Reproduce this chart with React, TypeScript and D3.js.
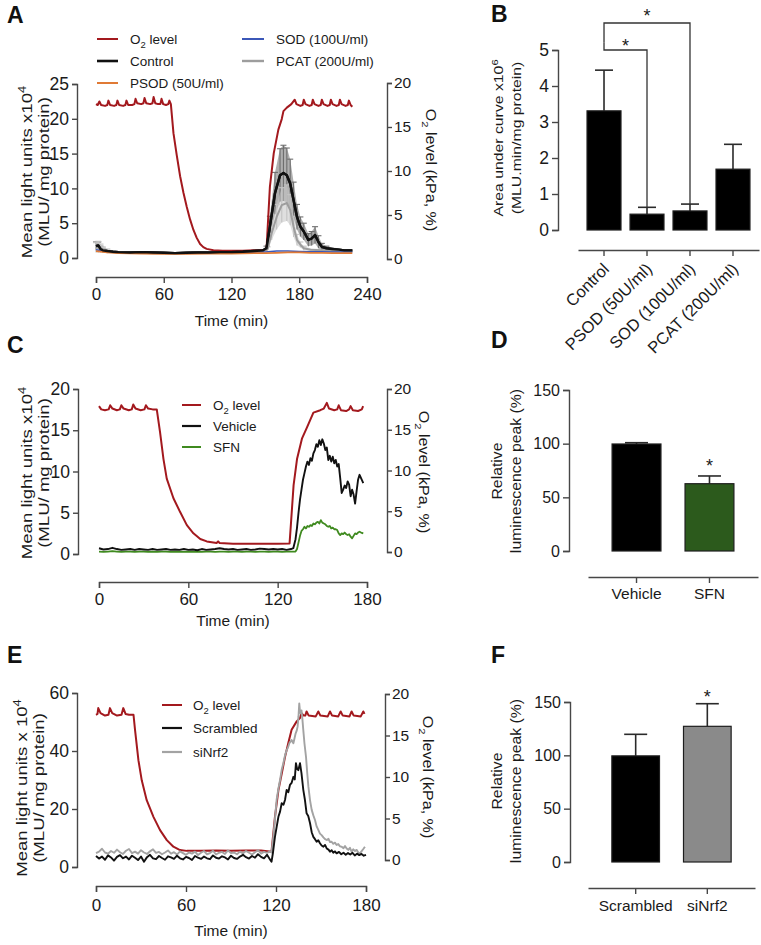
import React, { useEffect, useRef } from "react";
import * as d3 from "d3";

type Pt = [number, number];

// ---------- A: luminescence vs time with antioxidant enzymes ----------
const namesA = ["O2 level", "Control", "PSOD (50U/ml)", "SOD (100U/ml)", "PCAT (200U/ml)"];
// O2 in kPa (right axis)
const o2A: Pt[] = [
  [0, 17.6], [1.5, 17.5], [3, 17.9], [4.5, 17.5], [8, 17.4], [10, 17.5], [11, 18.0], [12.5, 17.5],
  [16, 17.4], [18, 17.5], [19, 18.0], [20.5, 17.5], [24, 17.4], [26, 17.5], [27, 18.0], [28.5, 17.5],
  [32, 17.5], [34, 17.6], [35, 18.2], [36.5, 17.7], [40, 17.6], [42, 17.7], [43, 18.3], [44.5, 17.7],
  [48, 17.6], [50, 17.7], [51, 18.4], [52.5, 17.7], [55, 17.6], [57, 17.6], [58, 18.2], [59.5, 17.6],
  [62, 17.5], [64, 17.6], [65, 18.0], [66.3, 17.6], [68.6, 14.3], [71.5, 11.8], [74.5, 9.4], [77.5, 7.5],
  [80.4, 5.9], [83.3, 4.5], [86.3, 3.3], [89.2, 2.4], [92.2, 1.7], [95, 1.35], [98, 1.15], [104, 1.0],
  [112, 0.95], [120, 0.95], [130, 0.95], [140, 1.0], [148, 1.0], [151, 1.1], [154, 8.2], [157.4, 12.0],
  [161.5, 14.7], [164.5, 15.9], [166, 16.8], [169, 17.2], [173, 17.6], [176, 18.1], [177.5, 17.6], [181, 17.4],
  [183, 17.5], [184, 18.1], [185.5, 17.6], [189, 17.4], [191, 17.5], [192, 18.1], [193.5, 17.6], [197, 17.4],
  [199, 17.5], [200, 18.1], [201.5, 17.6], [205, 17.4], [207, 17.5], [208, 18.1], [209.5, 17.6], [213, 17.4],
  [215, 17.5], [216, 18.1], [217.5, 17.6], [221, 17.4], [223, 17.5], [224, 18.0], [225.5, 17.5], [227, 17.3],
];
const controlA: Pt[] = [
  [0, 1.7], [2, 1.8], [4, 1.3], [6, 1.1], [10, 1.0], [15, 0.9], [20, 0.85], [30, 0.8], [40, 0.85], [50, 0.8],
  [60, 0.75], [70, 0.7], [80, 0.75], [90, 0.8], [100, 0.8], [110, 0.85], [120, 0.85], [130, 0.9], [140, 1.0], [148, 1.1],
  [151, 1.4], [154, 4.5], [158.5, 9.3], [163, 11.9], [166, 12.2], [169, 11.9], [172, 10.7], [175, 8.3], [178, 5.9], [181, 4.5],
  [184, 3.8], [188, 2.6], [191, 2.8], [194, 3.3], [197, 2.3], [200, 1.6], [204, 1.4], [209, 1.3], [215, 1.2], [220, 1.1],
  [227, 1.1],
];
const controlErrA = [
  0.6, 0.5, 0.4, 0.3, 0.2, 0.2, 0.15, 0.15, 0.15, 0.15,
  0.15, 0.15, 0.15, 0.15, 0.15, 0.15, 0.15, 0.15, 0.2, 0.2,
  0.3, 1.5, 3.0, 3.8, 4.0, 3.9, 3.5, 2.6, 1.8, 1.4,
  1.2, 0.9, 1.0, 1.2, 0.9, 0.5, 0.3, 0.2, 0.2, 0.15,
  0.15,
];
const psodA: Pt[] = [
  [0, 1.0], [10, 0.8], [20, 0.7], [40, 0.65], [60, 0.6], [80, 0.6], [100, 0.65], [120, 0.65], [140, 0.7],
  [150, 0.7], [160, 0.75], [170, 0.8], [180, 0.8], [190, 0.75], [200, 0.75], [210, 0.7], [227, 0.7],
];
const sodA: Pt[] = [
  [0, 1.2], [10, 0.9], [20, 0.8], [40, 0.7], [60, 0.7], [80, 0.7], [100, 0.75], [120, 0.8], [140, 0.85],
  [150, 0.85], [155, 0.95], [160, 1.0], [170, 1.0], [180, 0.95], [190, 0.9], [200, 0.9], [210, 0.85], [227, 0.85],
];
const pcatA: Pt[] = [
  [0, 1.5], [2, 1.6], [4, 1.4], [6, 1.2], [10, 1.0], [15, 0.9], [20, 0.8], [30, 0.75], [40, 0.75], [50, 0.7],
  [60, 0.7], [70, 0.7], [80, 0.7], [90, 0.75], [100, 0.75], [110, 0.8], [120, 0.8], [130, 0.85], [140, 0.9], [148, 1.0],
  [152, 1.3], [155.6, 3.6], [160, 5.9], [164.5, 7.6], [169, 7.9], [172, 6.9], [175, 4.5], [178, 2.6], [181, 1.9], [184, 1.4],
  [190, 1.2], [200, 1.1], [210, 1.0], [220, 1.0], [227, 1.0],
];
const pcatErrA = [
  0.7, 0.8, 0.6, 0.4, 0.3, 0.2, 0.15, 0.1, 0.1, 0.1,
  0.1, 0.1, 0.1, 0.1, 0.1, 0.1, 0.1, 0.1, 0.1, 0.15,
  0.3, 1.0, 1.8, 2.5, 2.6, 2.2, 1.5, 0.8, 0.4, 0.3,
  0.2, 0.15, 0.1, 0.1, 0.1,
];

// ---------- B: area under curve ----------
const groupsB = ["Control", "PSOD (50U/ml)", "SOD (100U/ml)", "PCAT (200U/ml)"];
const aucB = [3.31, 0.44, 0.53, 1.69];
const aucErrB = [1.13, 0.19, 0.19, 0.69];

// ---------- C: vehicle vs sulforaphane ----------
const namesC = ["O2 level", "Vehicle", "SFN"];
const o2C: Pt[] = [
  [0, 17.9], [1.5, 17.5], [4, 17.4], [6.5, 17.5], [7.5, 18.0], [9, 17.6], [12, 17.4], [14, 17.5], [15, 18.0],
  [16.5, 17.6], [20, 17.4], [22, 17.5], [23, 18.1], [24.5, 17.6], [28, 17.4], [30.5, 17.5], [31.5, 18.0], [33, 17.6],
  [36, 17.5], [38.8, 17.5], [41, 14.7], [43.3, 11.4], [45.5, 9.0], [50, 6.6], [54.5, 4.9], [59, 3.3], [63.4, 2.3],
  [68, 1.6], [72.4, 1.3], [79, 1.1], [80, 1.3], [81, 1.1], [90, 1.0], [100, 1.0], [110, 1.0], [120, 1.0], [128, 1.05],
  [130.7, 8.2], [133, 11.4], [136.3, 13.9], [139.7, 15.3], [144, 17.1], [148.6, 17.4], [151, 17.6], [153, 18.3],
  [154.5, 17.6], [158, 17.4], [160, 17.5], [161, 18.0], [162.5, 17.4], [166, 17.3], [168, 17.5], [169, 17.9],
  [170.5, 17.4], [174, 17.3], [176.5, 17.5], [177.4, 17.9],
];
const vehicleC: Pt[] = [
  [0, 0.7], [3, 0.55], [6, 0.6], [9, 0.75], [12, 0.6], [15, 0.5], [18, 0.55], [21, 0.6], [24, 0.5], [27, 0.6],
  [30, 0.55], [33, 0.5], [36, 0.6], [39, 0.5], [42, 0.55], [45, 0.6], [48, 0.5], [51, 0.55], [54, 0.5], [57, 0.6],
  [60, 0.5], [63, 0.55], [66, 0.45], [69, 0.6], [72, 0.5], [75, 0.55], [78, 0.6], [81, 0.7], [84, 0.6], [87, 0.55],
  [90, 0.6], [93, 0.5], [96, 0.55], [99, 0.6], [102, 0.5], [105, 0.55], [108, 0.65], [111, 0.6], [114, 0.55], [117, 0.6],
  [120, 0.55], [123, 0.6], [126, 0.5], [129, 0.6], [130.5, 0.7], [132, 1.8], [133, 3.2], [134, 5.0], [135, 6.6], [136, 7.8],
  [137, 9.0], [138, 9.8], [139, 10.6], [140, 11.2], [141, 10.8], [142, 11.6], [143, 11.3], [144, 12.2], [145, 12.6], [146, 13.3],
  [147, 13.0], [148, 13.8], [149, 13.2], [150, 13.9], [151, 13.4], [152, 12.6], [153, 12.9], [154, 11.4], [155, 11.9], [156, 11.2],
  [157, 11.8], [158, 11.0], [159, 11.4], [160, 10.6], [161, 10.9], [162, 9.2], [163, 7.4], [164, 7.8], [165, 8.3], [166, 8.0],
  [167, 8.8], [168, 8.4], [169, 7.0], [170, 7.8], [171, 7.2], [172, 6.1], [173, 7.6], [174, 9.0], [175, 9.6], [176, 9.2],
  [177.5, 8.6],
];
const sfnC: Pt[] = [
  [0, 0.3], [3, 0.25], [6, 0.3], [9, 0.35], [12, 0.3], [15, 0.25], [18, 0.3], [21, 0.3], [24, 0.25], [27, 0.3],
  [30, 0.3], [33, 0.25], [36, 0.3], [39, 0.25], [42, 0.3], [45, 0.3], [48, 0.25], [51, 0.25], [54, 0.3], [57, 0.25],
  [60, 0.3], [63, 0.25], [66, 0.3], [69, 0.25], [72, 0.3], [75, 0.3], [78, 0.25], [81, 0.3], [84, 0.3], [87, 0.25],
  [90, 0.3], [93, 0.3], [96, 0.25], [99, 0.3], [102, 0.3], [105, 0.25], [108, 0.3], [111, 0.3], [114, 0.25], [117, 0.3],
  [120, 0.3], [123, 0.25], [126, 0.3], [129, 0.3], [132, 0.3], [133, 0.6], [134, 1.4], [135, 2.2], [136, 2.8], [137, 3.0],
  [138, 3.3], [139, 3.1], [140, 3.4], [141, 3.3], [142, 3.5], [143, 3.4], [144, 3.7], [145, 3.6], [146, 3.8], [147, 3.9],
  [148, 3.7], [149, 4.1], [150, 3.8], [151, 3.7], [152, 3.6], [153, 3.4], [154, 3.3], [155, 3.4], [156, 3.1], [157, 3.2],
  [158, 3.0], [159, 3.0], [160, 2.9], [161, 2.5], [162, 2.3], [163, 2.5], [164, 2.4], [165, 2.6], [166, 2.4], [167, 2.3],
  [168, 2.4], [169, 2.1], [170, 1.9], [171, 2.2], [172, 2.5], [173, 2.4], [174, 2.6], [175, 2.7], [176, 2.6], [177.5, 2.5],
];

// ---------- D: relative peak, SFN ----------
const groupsD = ["Vehicle", "SFN"];
const peakD = [99.7, 62.7];
const peakErrD = [1.2, 7.2];

// ---------- E: scrambled vs siNrf2 ----------
const namesE = ["O2 level", "Scrambled", "siNrf2"];
const o2E: Pt[] = [
  [0, 17.5], [1, 17.6], [1.5, 18.3], [3, 17.7], [6, 17.4], [8.3, 17.5], [9.3, 18.3], [10.8, 17.7], [14, 17.4],
  [17, 17.5], [18.2, 18.3], [19.7, 17.6], [22, 17.5], [25, 17.5], [26, 15.7], [28.3, 12.0], [30.5, 9.6], [33.8, 7.2],
  [38.3, 5.2], [42.7, 3.6], [47.2, 2.4], [51.6, 1.6], [56, 1.2], [60.5, 1.1], [70, 1.1], [80, 1.15], [90, 1.1],
  [100, 1.15], [110, 1.15], [117, 1.0], [119.3, 5.2], [121.6, 8.4], [123.8, 10.4], [126, 12.4], [128.2, 14.1],
  [130.4, 15.7], [133.8, 16.7], [136, 17.1], [137, 17.7], [138.5, 17.4], [139.5, 17.4], [140.4, 17.9], [141.8, 17.4],
  [146.5, 17.3], [148.2, 17.9], [149.6, 17.4], [154.5, 17.3], [156, 17.9], [157.4, 17.4], [161.5, 17.3], [163.1, 17.9],
  [164.5, 17.4], [169, 17.3], [170.4, 17.9], [171.8, 17.4], [176.5, 17.3], [178.2, 17.9], [179, 17.6],
];
const scrambledE: Pt[] = [
  [0, 3.8], [2, 2.9], [4, 3.6], [6, 2.5], [8, 4.0], [10, 3.3], [12, 2.2], [14, 3.5], [16, 4.1], [18, 3.0],
  [20, 3.6], [22, 2.6], [24, 3.9], [26, 3.2], [28, 2.4], [30, 3.6], [32, 1.8], [34, 3.4], [36, 4.2], [38, 3.0],
  [40, 2.7], [42, 3.8], [44, 3.1], [46, 2.5], [48, 3.7], [50, 3.3], [52, 2.8], [54, 3.9], [56, 3.0], [58, 2.6],
  [60, 3.5], [62, 3.1], [64, 2.4], [66, 3.8], [68, 3.2], [70, 2.8], [72, 3.6], [74, 3.0], [76, 2.7], [78, 4.0],
  [80, 3.2], [82, 2.9], [84, 3.7], [86, 3.3], [88, 2.6], [90, 3.9], [92, 3.1], [94, 2.8], [96, 3.6], [98, 4.2],
  [100, 3.4], [102, 2.9], [104, 3.8], [106, 3.2], [108, 4.4], [110, 3.5], [112, 3.0], [114, 4.2], [116, 2.6], [117, 1.8],
  [118, 5.0], [119.3, 10.4], [120.5, 14.0], [121.6, 17.3], [122.7, 19.1], [123.8, 22.0], [125, 21.5], [126, 23.1], [127.1, 26.6], [128.2, 25.8],
  [129.3, 28.3], [130.4, 29.0], [131.6, 31.1], [132.5, 30.2], [133.3, 35.8], [134.1, 33.8], [134.9, 33.4], [136, 35.8], [137, 32.3], [138.2, 26.6],
  [139.3, 23.1], [140.4, 18.5], [141.5, 17.6], [142.7, 15.1], [143.8, 12.0], [144.9, 10.4], [146, 9.6], [147.1, 8.7], [148.2, 9.2], [149.3, 8.2],
  [150.4, 7.4], [151.6, 7.0], [152.7, 7.6], [153.8, 6.4], [155, 6.0], [156, 5.3], [157.1, 5.8], [158.2, 4.9], [159.3, 5.4], [160.4, 4.7],
  [162, 5.2], [163.5, 4.4], [165, 4.9], [166.5, 4.2], [168, 4.8], [169.5, 4.3], [171, 4.9], [172.5, 4.0], [174, 4.6], [175.5, 4.1],
  [177, 4.5], [178.5, 3.9], [180, 4.2],
];
const siNrf2E: Pt[] = [
  [0, 4.8], [2, 5.3], [4, 6.3], [6, 5.0], [8, 4.6], [10, 5.5], [12, 4.9], [14, 6.0], [16, 5.1], [18, 4.5],
  [20, 5.6], [22, 6.2], [24, 4.8], [26, 5.3], [28, 4.6], [30, 5.8], [32, 5.0], [34, 4.5], [36, 5.4], [38, 6.1],
  [40, 4.9], [42, 5.2], [44, 4.4], [46, 5.0], [48, 5.7], [50, 4.6], [52, 5.1], [54, 4.3], [56, 5.4], [58, 4.8],
  [60, 4.2], [62, 5.0], [64, 4.6], [66, 5.3], [68, 4.1], [70, 4.9], [72, 5.5], [74, 4.4], [76, 4.8], [78, 5.6],
  [80, 4.3], [82, 4.9], [84, 5.2], [86, 4.5], [88, 5.7], [90, 4.8], [92, 5.0], [94, 4.4], [96, 5.3], [98, 4.7],
  [100, 5.5], [102, 4.9], [104, 4.3], [106, 5.1], [108, 5.8], [110, 4.6], [112, 5.2], [114, 4.9], [116, 5.4], [117, 5.0],
  [118.2, 10.4], [119.3, 16.5], [120.4, 23.1], [121.6, 27.0], [122.7, 30.0], [123.8, 33.5], [124.9, 35.8], [126, 38.5], [127.1, 40.3], [128, 41.2],
  [128.9, 42.7], [129.7, 43.2], [130.4, 43.8], [131.6, 42.7], [132.4, 44.5], [133.1, 46.1], [133.8, 47.0], [134.4, 48.4], [135, 52.0], [135.5, 56.4],
  [136, 53.5], [136.4, 53.0], [137, 54.0], [137.6, 51.0], [138.2, 47.2], [139, 42.5], [140, 38.0], [140.8, 32.5], [141.6, 27.7], [142.7, 23.0],
  [143.8, 19.7], [144.9, 17.8], [146, 16.2], [147.1, 14.0], [148.2, 12.8], [149.3, 11.5], [150.4, 11.0], [151.6, 10.2], [152.7, 9.6], [153.8, 9.3],
  [155, 9.7], [156, 8.6], [157.1, 8.7], [158.2, 8.0], [159.3, 8.4], [160.4, 7.6], [161.5, 7.9], [162.7, 7.1], [163.8, 7.0], [165, 6.5],
  [166, 7.2], [167.1, 6.4], [168.2, 5.9], [169.3, 6.6], [170.4, 5.3], [171.5, 6.1], [172.7, 5.5], [173.8, 5.9], [175, 4.9], [176, 4.7],
  [177, 5.4], [178.2, 6.2], [179.3, 7.0],
];

// ---------- F: relative peak, siNrf2 ----------
const groupsF = ["Scrambled", "siNrf2"];
const peakF = [99.5, 127.2];
const peakErrF = [20.2, 21.2];

const FONT = "'Liberation Sans', Arial, Helvetica, sans-serif";
const AXIS = "#474747";
const RED = "#a3191e";

function styleAxis(g: any, size: number) {
  g.attr("font-family", FONT).attr("font-size", size);
  g.select(".domain").attr("stroke", AXIS).attr("stroke-width", 1.4);
  g.selectAll(".tick line").attr("stroke", AXIS).attr("stroke-width", 1.4);
  g.selectAll(".tick text").attr("fill", "#1a1a1a");
}

// segments: 0 normal, 1 superscript, -1 subscript
function richText(t: any, segs: [string, number][], fs: number) {
  let cur = 0;
  segs.forEach(([s, k]) => {
    const off = k > 0 ? -fs * 0.4 : k < 0 ? fs * 0.28 : 0;
    t.append("tspan").attr("dy", off - cur).attr("font-size", k ? fs * 0.7 : fs).text(s);
    cur = off;
  });
}

function nameSegs(name: string): [string, number][] {
  return name.startsWith("O2") ? [["O", 0], ["2", -1], [name.slice(2), 0]] : [[name, 0]];
}

function rotLabel(svg: any, x: number, y: number, angle: number, stretch: number, fs: number, segs: [string, number][]) {
  const t = svg.append("text")
    .attr("transform", `translate(${x},${y}) rotate(${angle}) scale(${stretch},1)`)
    .attr("text-anchor", "middle").attr("font-size", fs).attr("fill", "#1a1a1a");
  richText(t, segs, fs);
}

function panelLetter(svg: any, s: string, x: number, y: number) {
  svg.append("text").attr("x", x).attr("y", y).attr("font-size", 23).attr("font-weight", "bold").attr("fill", "#111").text(s);
}

function timePanel(svg: any, c: any) {
  const x = d3.scaleLinear().domain([0, c.xMax]).range(c.xRange);
  const yL = d3.scaleLinear().domain([0, c.yLMax]).range(c.yLRange);
  const yR = d3.scaleLinear().domain([0, 20]).range(c.yRRange);

  const gx = svg.append("g").attr("transform", `translate(0,${c.xAxisY})`)
    .call(d3.axisBottom(x).tickValues(c.xTicks).tickSize(6).tickPadding(c.xPad));
  styleAxis(gx, 17);
  const gl = svg.append("g").attr("transform", `translate(${c.leftX},0)`)
    .call(d3.axisLeft(yL).tickValues(c.yLTicks).tickSize(5).tickPadding(3));
  styleAxis(gl, 17.5);
  const gr = svg.append("g").attr("transform", `translate(${c.rightX},0)`)
    .call(d3.axisRight(yR).tickValues([0, 5, 10, 15, 20]).tickSize(5).tickPadding(2));
  styleAxis(gr, 15.5);

  const lineL = d3.line<Pt>().x((d) => x(d[0])).y((d) => yL(d[1]));
  const lineR = d3.line<Pt>().x((d) => x(d[0])).y((d) => yR(d[1]));

  // error bands (mean +/- SEM) with caps
  c.series.forEach((s: any) => {
    if (!s.err) return;
    const band = d3.area<Pt>()
      .x((d) => x(d[0]))
      .y0((d, i) => yL(Math.max(0, d[1] - s.err[i])))
      .y1((d, i) => yL(d[1] + s.err[i]));
    svg.append("path").datum(s.data).attr("d", band).attr("fill", s.errColor).attr("opacity", 0.55);
    const g = svg.append("g").attr("stroke", s.errColor).attr("stroke-width", 1.1);
    s.data.forEach((d: Pt, i: number) => {
      if (s.err[i] < 0.25) return;
      const xx = x(d[0]);
      const top = yL(d[1] + s.err[i]);
      g.append("line").attr("x1", xx).attr("x2", xx).attr("y1", yL(Math.max(0, d[1] - s.err[i]))).attr("y2", top);
      g.append("line").attr("x1", xx - 3).attr("x2", xx + 3).attr("y1", top).attr("y2", top);
    });
  });

  svg.append("path").datum(c.o2).attr("d", lineR).attr("fill", "none")
    .attr("stroke", RED).attr("stroke-width", 2).attr("stroke-linejoin", "round");
  c.series.forEach((s: any) => {
    svg.append("path").datum(s.data).attr("d", lineL).attr("fill", "none")
      .attr("stroke", s.color).attr("stroke-width", s.w).attr("stroke-linejoin", "round");
  });

  // legend
  c.legend.forEach((l: any) => {
    svg.append("line").attr("x1", l.x0).attr("x2", l.x1).attr("y1", l.y).attr("y2", l.y)
      .attr("stroke", l.color).attr("stroke-width", l.w);
    const t = svg.append("text").attr("x", l.tx).attr("y", l.y + 4.8).attr("font-size", 13.5).attr("fill", "#1a1a1a");
    richText(t, nameSegs(l.name), 13.5);
  });

  // axis titles
  const midX = (c.xRange[0] + c.xRange[1]) / 2;
  svg.append("text").attr("x", midX).attr("y", c.timeY).attr("text-anchor", "middle")
    .attr("font-size", 15.5).attr("fill", "#1a1a1a").text("Time (min)");
  rotLabel(svg, c.labelX[0], c.labelY, -90, 1.24, 15, [[c.leftTitle, 0], ["4", 1]]);
  rotLabel(svg, c.labelX[1], c.labelY, -90, 1.24, 15, [["(MLU/ mg protein)", 0]]);
  rotLabel(svg, c.rightLabelX, c.rightLabelY, 90, 1.15, 14, [["O", 0], ["2", -1], [" level (kPa, %)", 0]]);
}

function barPanel(svg: any, c: any) {
  const x = d3.scaleBand().domain(c.groups).range(c.xRange).paddingInner(c.pi).paddingOuter(c.po);
  const y = d3.scaleLinear().domain([0, c.yMax]).range(c.yRange);

  const gy = svg.append("g").attr("transform", `translate(${c.axisX},0)`)
    .call(d3.axisLeft(y).tickValues(c.yTicks).tickFormat(d3.format("d")).tickSize(6).tickPadding(3));
  styleAxis(gy, c.tickFs);
  const gx = svg.append("g").attr("transform", `translate(0,${c.xAxisY})`)
    .call(d3.axisBottom(x).tickSize(6).tickSizeOuter(0).tickPadding(c.xPad));
  styleAxis(gx, c.labelFs);
  if (c.rotate) {
    gx.selectAll(".tick text").attr("text-anchor", "end").attr("x", 0).attr("y", 0).attr("dy", "0.35em")
      .attr("transform", "translate(2,16) rotate(-45)");
  }

  c.groups.forEach((gname: string, i: number) => {
    const bx = x(gname) as number;
    const bw = x.bandwidth();
    const cx = bx + bw / 2;
    const top = y(c.vals[i] + c.errs[i]);
    svg.append("line").attr("x1", cx).attr("x2", cx).attr("y1", y(c.vals[i])).attr("y2", top)
      .attr("stroke", "#2a2a2a").attr("stroke-width", 1.6);
    svg.append("line").attr("x1", cx - c.capW / 2).attr("x2", cx + c.capW / 2).attr("y1", top).attr("y2", top)
      .attr("stroke", "#2a2a2a").attr("stroke-width", 1.6);
    svg.append("rect").attr("x", bx).attr("y", y(c.vals[i])).attr("width", bw).attr("height", y(0) - y(c.vals[i]))
      .attr("fill", c.fills[i]).attr("stroke", "#1e1e1e").attr("stroke-width", 1.2);
  });

  (c.stars || []).forEach((i: number) => {
    const cx = (x(c.groups[i]) as number) + x.bandwidth() / 2;
    svg.append("text").attr("x", cx).attr("y", y(c.vals[i] + c.errs[i]) - c.starGap)
      .attr("text-anchor", "middle").attr("font-size", 18).attr("fill", "#1a1a1a").text("*");
  });

  return { x, y };
}

export default function App() {
  const ref = useRef<SVGSVGElement>(null);

  useEffect(() => {
    const svg = d3.select(ref.current);
    svg.selectAll("*").remove();
    svg.attr("font-family", FONT);

    // ----- A -----
    panelLetter(svg, "A", 7, 23);
    timePanel(svg, {
      xMax: 240, xRange: [96, 367], xTicks: [0, 60, 120, 180, 240], xAxisY: 277, xPad: 5,
      yLMax: 25, yLRange: [258, 84], yLTicks: [0, 5, 10, 15, 20, 25], yRRange: [259, 83],
      leftX: 77, rightX: 387,
      o2: o2A,
      series: [
        { data: controlA, color: "#111", w: 2.4, err: controlErrA, errColor: "#6e6e6e" },
        { data: pcatA, color: "#9d9d9d", w: 2, err: pcatErrA, errColor: "#c4c4c4" },
        { data: sodA, color: "#3b57b8", w: 1.5 },
        { data: psodA, color: "#e07a35", w: 1.8 },
        { data: controlA, color: "#111", w: 2.4 },
      ],
      legend: [
        { name: namesA[0], color: RED, w: 2, x0: 97, x1: 118, tx: 130, y: 39 },
        { name: namesA[1], color: "#111", w: 2.6, x0: 97, x1: 118, tx: 130, y: 61 },
        { name: namesA[2], color: "#e07a35", w: 2, x0: 97, x1: 118, tx: 130, y: 83 },
        { name: namesA[3], color: "#3b57b8", w: 2, x0: 242, x1: 264, tx: 276, y: 39 },
        { name: namesA[4], color: "#9d9d9d", w: 2.4, x0: 242, x1: 264, tx: 276, y: 61 },
      ],
      timeY: 326, leftTitle: "Mean light units x10",
      labelX: [32, 49], labelY: 172, rightLabelX: 426, rightLabelY: 170,
    });

    // ----- B -----
    panelLetter(svg, "B", 491, 22);
    const b = barPanel(svg, {
      groups: groupsB, vals: aucB, errs: aucErrB, fills: ["#000", "#000", "#000", "#000"],
      xRange: [578, 759], pi: 0.21, po: 0.21, yMax: 5, yRange: [230, 50], yTicks: [0, 1, 2, 3, 4, 5],
      axisX: 558, xAxisY: 250, xPad: 3, tickFs: 17.5, labelFs: 16.5, rotate: true, capW: 18,
    });
    // significance brackets (Control vs PSOD, Control vs SOD)
    const cxB = (i: number) => (b.x(groupsB[i]) as number) + b.x.bandwidth() / 2;
    const topB = (i: number) => b.y(aucB[i] + aucErrB[i]);
    const brk = svg.append("g").attr("fill", "none").attr("stroke", "#333").attr("stroke-width", 1.3);
    brk.append("path").attr("d", `M${cxB(0)},${b.y(5.2)}V${b.y(5)}H${cxB(1)}V${topB(1)}`);
    brk.append("path").attr("d", `M${cxB(0)},${b.y(5.2)}V${b.y(5.75)}H${cxB(2)}V${topB(2)}`);
    svg.append("text").attr("x", (cxB(0) + cxB(1)) / 2).attr("y", b.y(5) + 2).attr("text-anchor", "middle")
      .attr("font-size", 18).attr("fill", "#1a1a1a").text("*");
    svg.append("text").attr("x", (cxB(0) + cxB(2)) / 2).attr("y", b.y(5.75) - 1).attr("text-anchor", "middle")
      .attr("font-size", 18).attr("fill", "#1a1a1a").text("*");
    rotLabel(svg, 503, 138, -90, 1.17, 13.5, [["Area under curve x10", 0], ["6", 1]]);
    rotLabel(svg, 521, 138, -90, 1.17, 13.5, [["(MLU.min/mg protein)", 0]]);

    // ----- C -----
    panelLetter(svg, "C", 7, 353);
    timePanel(svg, {
      xMax: 180, xRange: [99, 367], xTicks: [0, 60, 120, 180], xAxisY: 582, xPad: 5,
      yLMax: 20, yLRange: [554, 389], yLTicks: [0, 5, 10, 15, 20], yRRange: [552, 389],
      leftX: 78, rightX: 387,
      o2: o2C,
      series: [
        { data: sfnC, color: "#3f8a1f", w: 1.8 },
        { data: vehicleC, color: "#111", w: 1.9 },
      ],
      legend: [
        { name: namesC[0], color: RED, w: 2, x0: 182, x1: 201, tx: 213, y: 405 },
        { name: namesC[1], color: "#111", w: 2.2, x0: 182, x1: 201, tx: 213, y: 426 },
        { name: namesC[2], color: "#3f8a1f", w: 2, x0: 182, x1: 201, tx: 213, y: 447 },
      ],
      timeY: 626, leftTitle: "Mean light units x10",
      labelX: [32, 49], labelY: 473, rightLabelX: 419, rightLabelY: 472,
    });

    // ----- D -----
    panelLetter(svg, "D", 491, 348);
    barPanel(svg, {
      groups: groupsD, vals: peakD, errs: peakErrD, fills: ["#000", "#2c5a1c"],
      xRange: [588, 758], pi: 0.33, po: 0.33, yMax: 150, yRange: [551, 390], yTicks: [0, 50, 100, 150],
      axisX: 569, xAxisY: 577, xPad: 5, tickFs: 16, labelFs: 15.5, rotate: false, capW: 23,
      stars: [1], starGap: 4,
    });
    rotLabel(svg, 502, 471, -90, 1.13, 14, [["Relative", 0]]);
    rotLabel(svg, 521, 471, -90, 1.13, 14, [["luminescence peak (%)", 0]]);

    // ----- E -----
    panelLetter(svg, "E", 7, 663);
    timePanel(svg, {
      xMax: 180, xRange: [96, 366], xTicks: [0, 60, 120, 180], xAxisY: 886, xPad: 7,
      yLMax: 60, yLRange: [867, 693], yLTicks: [0, 20, 40, 60], yRRange: [860, 694],
      leftX: 77, rightX: 385,
      o2: o2E,
      series: [
        { data: siNrf2E, color: "#a3a3a3", w: 1.9 },
        { data: scrambledE, color: "#111", w: 1.9 },
      ],
      legend: [
        { name: namesE[0], color: RED, w: 2, x0: 162, x1: 182, tx: 193, y: 705 },
        { name: namesE[1], color: "#111", w: 2.2, x0: 162, x1: 182, tx: 193, y: 728 },
        { name: namesE[2], color: "#a3a3a3", w: 2.2, x0: 162, x1: 182, tx: 193, y: 752 },
      ],
      timeY: 936, leftTitle: "Mean light units x 10",
      labelX: [27, 44], labelY: 788, rightLabelX: 423, rightLabelY: 777,
    });

    // ----- F -----
    panelLetter(svg, "F", 491, 663);
    barPanel(svg, {
      groups: groupsF, vals: peakF, errs: peakErrF, fills: ["#000", "#8a8a8a"],
      xRange: [588, 755], pi: 0.335, po: 0.333, yMax: 150, yRange: [862, 702], yTicks: [0, 50, 100, 150],
      axisX: 570, xAxisY: 888, xPad: 6, tickFs: 16, labelFs: 15.5, rotate: false, capW: 23,
      stars: [1], starGap: 1,
    });
    rotLabel(svg, 502, 781, -90, 1.13, 14, [["Relative", 0]]);
    rotLabel(svg, 521, 781, -90, 1.13, 14, [["luminescence peak (%)", 0]]);
  }, []);

  return (
    <svg
      ref={ref}
      width={761}
      height={945}
      style={{ position: "absolute", left: 0, top: 0, background: "#fff" }}
    />
  );
}
